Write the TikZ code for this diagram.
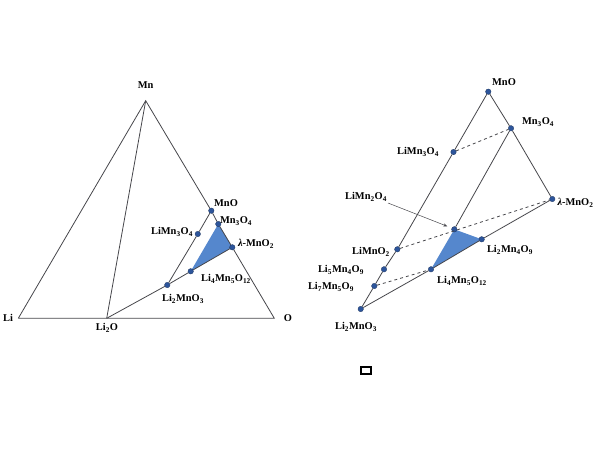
\documentclass[tikz,border=0pt]{standalone}
\usepackage{fontspec}
\setmainfont{Liberation Serif}
\usetikzlibrary{backgrounds,arrows.meta}
\definecolor{dotblue}{RGB}{45,85,155}
\definecolor{fillblue}{RGB}{85,135,205}
\definecolor{edgegray}{RGB}{70,70,75}
\newcommand{\chsub}[1]{\textsubscript{#1}}
\begin{document}
\begin{tikzpicture}[x=1pt,y=-1pt]
  \tikzstyle{dot}=[circle,fill=dotblue,draw=dotblue!60!black,line width=0.3pt,inner sep=0pt,minimum size=5.5pt]
  \tikzstyle{lab}=[font=\bfseries\fontsize{10.4}{12}\selectfont,inner sep=0pt]
  \tikzstyle{edge}=[draw=edgegray,line width=0.8pt]
  \useasboundingbox (0,0) rectangle (600,450);
  % left: Li-Mn-O triangle
  \coordinate (mn) at (145.7,100.7);
  \coordinate (li) at (18.3,318.3);
  \coordinate (o) at (274.3,318.3);
  \coordinate (li2o) at (106.7,318.3);
  \node[dot] (mno) at (211.3,210.7) {};
  \node[dot] (mn3o4) at (218.3,224) {};
  \node[dot] (lmno2) at (232.3,247.3) {};
  \node[dot] (limn3o4) at (197.8,234) {};
  \node[dot] (li4mn5) at (190.7,271.3) {};
  \node[dot] (li2mno3) at (167.3,285) {};
  \begin{scope}[on background layer]
    \fill[fillblue] (mn3o4.center) -- (lmno2.center) -- (li4mn5.center) -- cycle;
  \end{scope}
  \draw[edge] (li) -- (mn) -- (mno) -- (mn3o4) -- (lmno2) -- (o) -- (li);
  \draw[edge] (mn) -- (li2o);
  \draw[edge] (li2o) -- (li2mno3) -- (li4mn5) -- (lmno2);
  \draw[edge] (li2mno3) -- (limn3o4) -- (mno);
  \node[lab] (t-mn) at (145.7,85) {Mn};
  \node[lab] (t-li) at (8,318) {Li};
  \node[lab] (t-o) at (288,318) {O};
  \node[lab] (t-li2o) at (107,328) {Li\chsub{2}O};
  \node[lab] (t-mno) at (226,203) {MnO};
  \node[lab] (t-mn3o4) at (236,221) {Mn\chsub{3}O\chsub{4}};
  \node[lab] (t-lmno2) at (256,244) {{\itshape λ}-MnO\chsub{2}};
  \node[lab] (t-limn3o4) at (172,232) {LiMn\chsub{3}O\chsub{4}};
  \node[lab] (t-li4mn5) at (226,279) {Li\chsub{4}Mn\chsub{5}O\chsub{12}};
  \node[lab] (t-li2mno3) at (183,299) {Li\chsub{2}MnO\chsub{3}};
  % right: enlarged MnO / lambda-MnO2 / Li2MnO3 section
  \node[dot] (r-mno) at (488.3,91.7) {};
  \node[dot] (r-mn3o4) at (511,128.3) {};
  \node[dot] (r-lmno2) at (552.3,199) {};
  \node[dot] (r-limn3o4) at (453.5,152) {};
  \node[dot] (r-limn2o4) at (454.3,229.3) {};
  \node[dot] (r-li2mn4) at (481.7,239.3) {};
  \node[dot] (r-limno2) at (397.3,249.3) {};
  \node[dot] (r-li5mn4) at (384,269.3) {};
  \node[dot] (r-li4mn5) at (431,269.3) {};
  \node[dot] (r-li7mn5) at (374.3,286) {};
  \node[dot] (r-li2mno3) at (360.7,309) {};
  \begin{scope}[on background layer]
    \fill[fillblue] (r-limn2o4.center) -- (r-li2mn4.center) -- (r-li4mn5.center) -- cycle;
  \end{scope}
  \draw[edge] (r-li2mno3) -- (r-li7mn5) -- (r-li5mn4) -- (r-limno2) -- (r-limn3o4) -- (r-mno);
  \draw[edge] (r-mno) -- (r-mn3o4) -- (r-lmno2);
  \draw[edge] (r-lmno2) -- (r-li2mn4) -- (r-li4mn5) -- (r-li2mno3);
  \draw[edge] (r-mn3o4) -- (r-limn2o4);
  \draw[edge,dashed] (r-limn3o4) -- (r-mn3o4);
  \draw[edge,dashed] (r-limno2) -- (r-lmno2);
  \draw[edge,dashed] (r-li7mn5) -- (r-li4mn5);
  \node[lab] (t-r-mno) at (504,82) {MnO};
  \node[lab] (t-r-mn3o4) at (538,122) {Mn\chsub{3}O\chsub{4}};
  \node[lab] (t-r-limn3o4) at (418,152) {LiMn\chsub{3}O\chsub{4}};
  \node[lab] (t-r-limn2o4) at (366,197) {LiMn\chsub{2}O\chsub{4}};
  \node[lab] (t-r-lmno2) at (575.5,203) {{\itshape λ}-MnO\chsub{2}};
  \node[lab] (t-r-limno2) at (371,252) {LiMnO\chsub{2}};
  \node[lab] (t-r-li2mn4) at (510,250) {Li\chsub{2}Mn\chsub{4}O\chsub{9}};
  \node[lab] (t-r-li5mn4) at (341,270) {Li\chsub{5}Mn\chsub{4}O\chsub{9}};
  \node[lab] (t-r-li4mn5) at (462,281) {Li\chsub{4}Mn\chsub{5}O\chsub{12}};
  \node[lab] (t-r-li7mn5) at (331,287) {Li\chsub{7}Mn\chsub{5}O\chsub{9}};
  \node[lab] (t-r-li2mno3) at (356,327) {Li\chsub{2}MnO\chsub{3}};
  \draw[edgegray,line width=0.5pt,-{Stealth[length=4pt]}] (388,203) -- ([shift={(-7,-3)}]r-limn2o4.center);
  % small box below
  \draw[line width=1.3pt] (361,367) rectangle (371,374);
\end{tikzpicture}
\end{document}
